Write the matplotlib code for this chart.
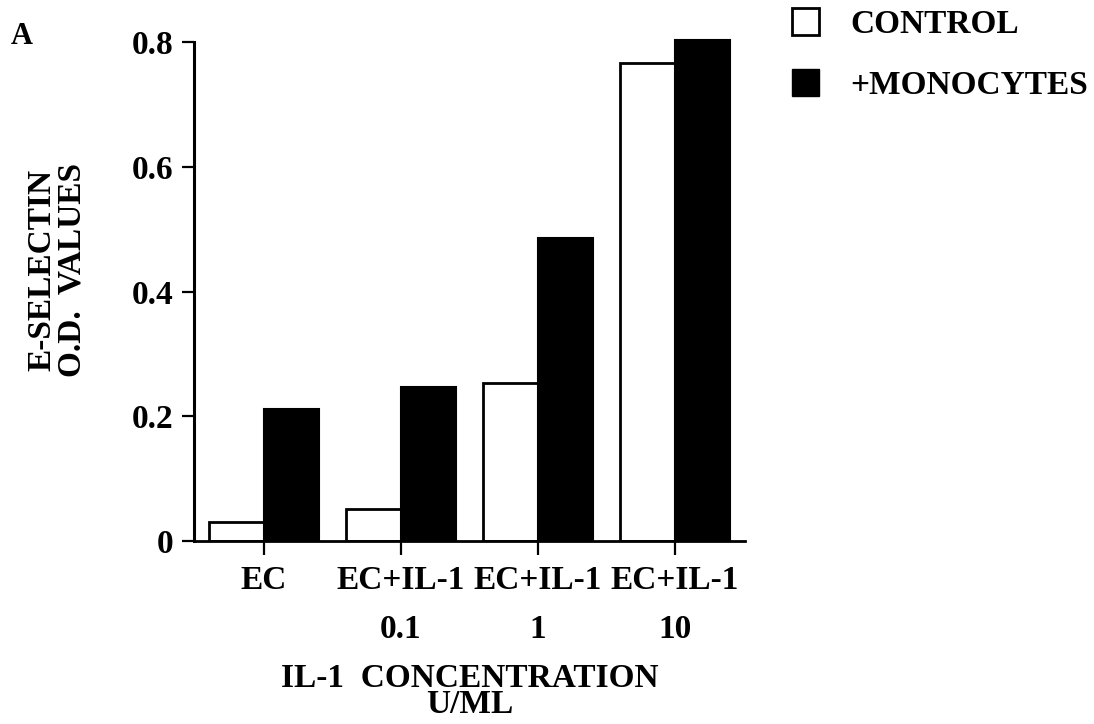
import matplotlib
matplotlib.use("Agg")
import matplotlib.pyplot as plt
from matplotlib.patches import Patch
import numpy as np

# data
groups = ["EC", "EC+IL-1", "EC+IL-1", "EC+IL-1"]
doses = ["", "0.1", "1", "10"]
control = [0.030, 0.052, 0.254, 0.766]
monocytes = [0.211, 0.247, 0.486, 0.804]
yticks = [0, 0.2, 0.4, 0.6, 0.8]
ytick_labels = ["0", "0.2", "0.4", "0.6", "0.8"]

plt.rcParams["font.family"] = ["Liberation Serif", "DejaVu Serif"]
plt.rcParams["font.weight"] = "bold"
fs = 24

fig = plt.figure(figsize=(10.94, 7.24), dpi=100)
ax = fig.add_axes([0.1773, 0.2528, 0.681 - 0.1773, 0.959 - 0.2528])

x = np.arange(len(groups))
w = 0.40
ax.bar(x - w / 2, control, w, color="white", edgecolor="black", linewidth=2)
ax.bar(x + w / 2, monocytes, w, color="black", edgecolor="black", linewidth=1.5)

ax.set_xlim(-0.51, 3.51)
ax.set_ylim(0, 0.82)
ax.spines["top"].set_visible(False)
ax.spines["right"].set_visible(False)
ax.spines["left"].set_bounds(0, 0.8)
ax.spines["left"].set_linewidth(2.2)
ax.spines["bottom"].set_linewidth(2)

ax.set_yticks(yticks)
ax.set_yticklabels(ytick_labels, fontsize=fs, fontweight="bold")
ax.set_xticks(x)
ax.set_xticklabels([g + "\n" + d for g, d in zip(groups, doses)],
                   fontsize=fs, fontweight="bold", linespacing=1.75)
ax.tick_params(axis="y", length=9, width=1.6, pad=6)
ax.tick_params(axis="x", length=10, width=1.6, pad=7)

ax.set_xlabel("IL-1  CONCENTRATION\nU/ML", fontsize=fs, fontweight="bold",
              labelpad=13, linespacing=0.8)

fig.text(57 / 1094, 1 - 270 / 724, "E-SELECTIN\nO.D.  VALUES", rotation=90,
         ha="center", va="center", ma="center", fontsize=fs,
         fontweight="bold", linespacing=0.95)
fig.text(22 / 1094, 1 - 37 / 724, "A", ha="center", va="center",
         fontsize=22, fontweight="bold")

handles = [Patch(facecolor="white", edgecolor="black", linewidth=2),
           Patch(facecolor="black", edgecolor="black")]
fig.legend(handles, ["CONTROL", "+MONOCYTES"], loc="upper left",
           bbox_to_anchor=(792 / 1094, 1 - 8 / 724), frameon=False,
           prop={"weight": "bold", "size": fs},
           handlelength=0.8, handleheight=0.85, handletextpad=0.95,
           labelspacing=0.88, borderpad=0, borderaxespad=0)

fig.savefig("out.png", dpi=100)
